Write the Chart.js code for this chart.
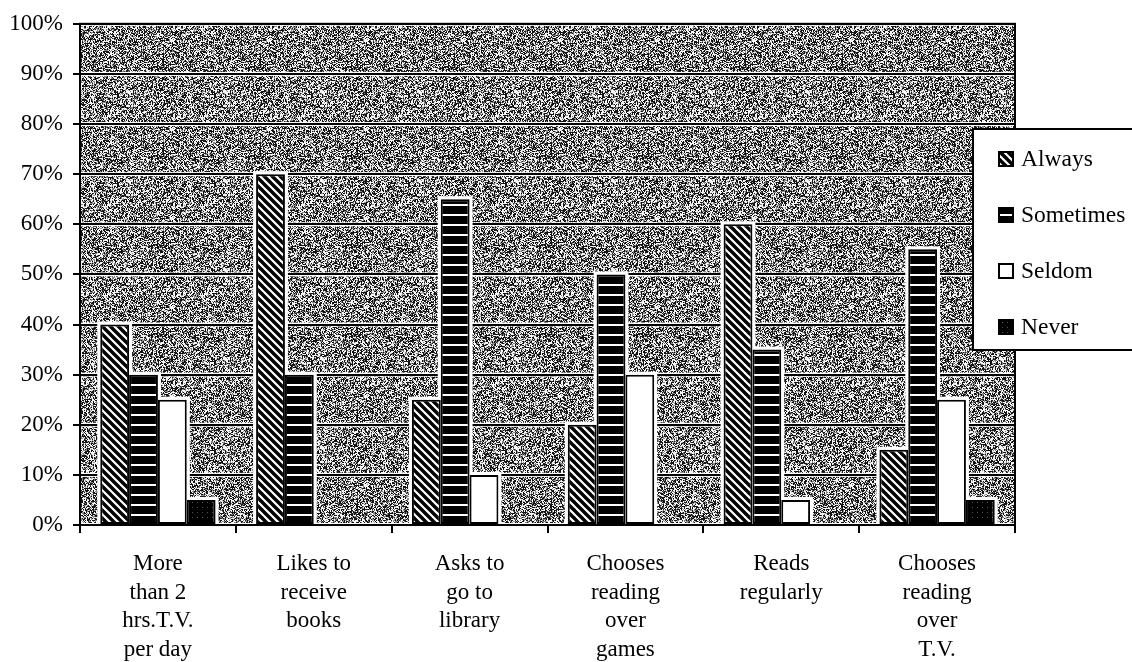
<!DOCTYPE html>
<html>
<head>
<meta charset="utf-8">
<script src="https://cdn.jsdelivr.net/npm/chart.js@4"></script>
<style>
  html, body { margin: 0; padding: 0; background: #fff; }
  #wrap { position: relative; width: 1132px; height: 662px; }
</style>
</head>
<body>
<div id="wrap"><canvas id="chart" width="1132" height="662"></canvas></div>
<script>
// Survey categories (x axis, one array of lines per label)
const categories = [
  ['More', 'than 2', 'hrs.T.V.', 'per day'],
  ['Likes to', 'receive', 'books'],
  ['Asks to', 'go to', 'library'],
  ['Chooses', 'reading', 'over', 'games'],
  ['Reads', 'regularly'],
  ['Chooses', 'reading', 'over', 'T.V.'],
];
const seriesNames = ['Always', 'Sometimes', 'Seldom', 'Never'];

// Percent of answers per category
const always = [40, 70, 25, 20, 60, 15];
const sometimes = [30, 30, 65, 50, 35, 55];
const seldom = [25, 0, 10, 30, 5, 25];
const never = [5, 0, 0, 0, 0, 5];

const yMax = 100;
const yStep = 10;

const SERIF = "'Liberation Serif', 'Times New Roman', serif";

const canvas = document.getElementById('chart');
const ctx = canvas.getContext('2d');

// small helper to build repeating fill patterns
function makePattern(w, h, draw) {
  const c = document.createElement('canvas');
  c.width = w;
  c.height = h;
  draw(c.getContext('2d'), w, h);
  return ctx.createPattern(c, 'repeat');
}

// backslash hatch
const hatchFill = makePattern(8, 8, (g, w, h) => {
  g.fillStyle = '#fff';
  g.fillRect(0, 0, w, h);
  g.strokeStyle = '#000';
  g.lineWidth = 3.4;
  for (let k = -w; k <= w; k += w) {
    g.beginPath();
    g.moveTo(k - 2, -2);
    g.lineTo(k + w + 2, h + 2);
    g.stroke();
  }
});

// black with thin white rules
const ruleFill = makePattern(4, 10, (g, w, h) => {
  g.fillStyle = '#000';
  g.fillRect(0, 0, w, h);
  g.fillStyle = '#fff';
  g.fillRect(0, 4, w, 2);
});

// black with faint dots
const dotFill = makePattern(5, 5, (g, w, h) => {
  g.fillStyle = '#000';
  g.fillRect(0, 0, w, h);
  g.fillStyle = '#555';
  g.fillRect(2, 2, 1, 1);
});

// grey stipple for the plot background (fixed seed so it stays the same)
const stippleFill = makePattern(97, 89, (g, w, h) => {
  const img = g.createImageData(w, h);
  let seed = 12345;
  const rnd = () => {
    seed = (seed * 1103515245 + 12345) & 0x7fffffff;
    return seed / 0x7fffffff;
  };
  for (let i = 0; i < w * h; i++) {
    const r = rnd();
    const v = r < 0.4 ? 20 : r < 0.62 ? 135 : 245;
    img.data[i * 4] = v;
    img.data[i * 4 + 1] = v;
    img.data[i * 4 + 2] = v;
    img.data[i * 4 + 3] = 255;
  }
  g.putImageData(img, 0, 0);
});

const fills = [hatchFill, ruleFill, '#fff', dotFill];
const seriesData = [always, sometimes, seldom, never];

// stipple background + thin white halo behind each grid line
const plotBackground = {
  id: 'plotBackground',
  beforeDraw(chart) {
    const { ctx, chartArea: a, scales } = chart;
    ctx.save();
    ctx.fillStyle = stippleFill;
    ctx.fillRect(a.left, a.top, a.right - a.left, a.bottom - a.top);
    ctx.fillStyle = '#fff';
    scales.y.ticks.forEach((t) => {
      const y = scales.y.getPixelForValue(t.value);
      ctx.fillRect(a.left, y - 2, a.right - a.left, 4);
    });
    ctx.restore();
  },
};

// white margin around bars, frame round the plot
const barHalo = {
  id: 'barHalo',
  beforeDatasetsDraw(chart) {
    const { ctx } = chart;
    ctx.save();
    ctx.fillStyle = '#fff';
    chart.data.datasets.forEach((ds, i) => {
      chart.getDatasetMeta(i).data.forEach((bar, j) => {
        if (!ds.data[j]) return;
        const p = bar.getProps(['x', 'y', 'base', 'width'], true);
        ctx.fillRect(p.x - p.width / 2 - 3, p.y - 3, p.width + 6, p.base - p.y + 3);
      });
    });
    ctx.restore();
  },
  afterDatasetsDraw(chart) {
    const { ctx, chartArea: a } = chart;
    ctx.save();
    ctx.strokeStyle = '#000';
    ctx.lineWidth = 2;
    ctx.strokeRect(a.left, a.top, a.right - a.left, a.bottom - a.top);
    ctx.restore();
  },
};

// boxed legend sitting over the right edge of the plot
const boxLegend = {
  id: 'boxLegend',
  afterDraw(chart) {
    const { ctx, chartArea: a } = chart;
    const left = a.right - 42;
    const top = 129;
    ctx.save();
    ctx.fillStyle = '#fff';
    ctx.fillRect(left, top, 200, 221);
    ctx.strokeStyle = '#000';
    ctx.lineWidth = 2;
    ctx.strokeRect(left, top, 200, 221);
    ctx.font = '23.5px ' + SERIF;
    ctx.textBaseline = 'middle';
    chart.data.datasets.forEach((ds, i) => {
      const y = 159 + i * 56;
      ctx.fillStyle = ds.backgroundColor;
      ctx.fillRect(left + 26, y - 7, 14, 14);
      ctx.lineWidth = 2;
      ctx.strokeRect(left + 26, y - 7, 14, 14);
      ctx.fillStyle = '#000';
      ctx.fillText(ds.label, left + 48, y + 1);
    });
    ctx.restore();
  },
};

Chart.defaults.color = '#000';

new Chart(ctx, {
  type: 'bar',
  data: {
    labels: categories,
    datasets: seriesNames.map((name, i) => ({
      label: name,
      data: seriesData[i],
      backgroundColor: fills[i],
      borderColor: '#000',
      borderWidth: 2,
      borderSkipped: false,
      categoryPercentage: 0.74,
      barPercentage: 1,
    })),
  },
  options: {
    responsive: false,
    animation: false,
    layout: { padding: { top: 20, right: 117, left: 0, bottom: 0 } },
    plugins: {
      legend: { display: false },
      tooltip: { enabled: false },
    },
    scales: {
      x: {
        afterFit: (s) => { s.height = 137; },
        grid: {
          drawOnChartArea: false,
          drawTicks: true,
          tickLength: 8,
          color: '#000',
          lineWidth: 2,
        },
        border: { display: true, color: '#000', width: 2 },
        ticks: {
          padding: 17,
          maxRotation: 0,
          autoSkip: false,
          font: { family: SERIF, size: 23, lineHeight: 1.24 },
        },
      },
      y: {
        min: 0,
        max: yMax,
        afterFit: (s) => { s.width = 80; },
        grid: { color: '#000', lineWidth: 2, tickLength: 7 },
        border: { display: true, color: '#000', width: 2 },
        ticks: {
          stepSize: yStep,
          padding: 10,
          font: { family: SERIF, size: 23 },
          callback: (v) => v + '%',
        },
      },
    },
  },
  plugins: [plotBackground, barHalo, boxLegend],
});
</script>
</body>
</html>
